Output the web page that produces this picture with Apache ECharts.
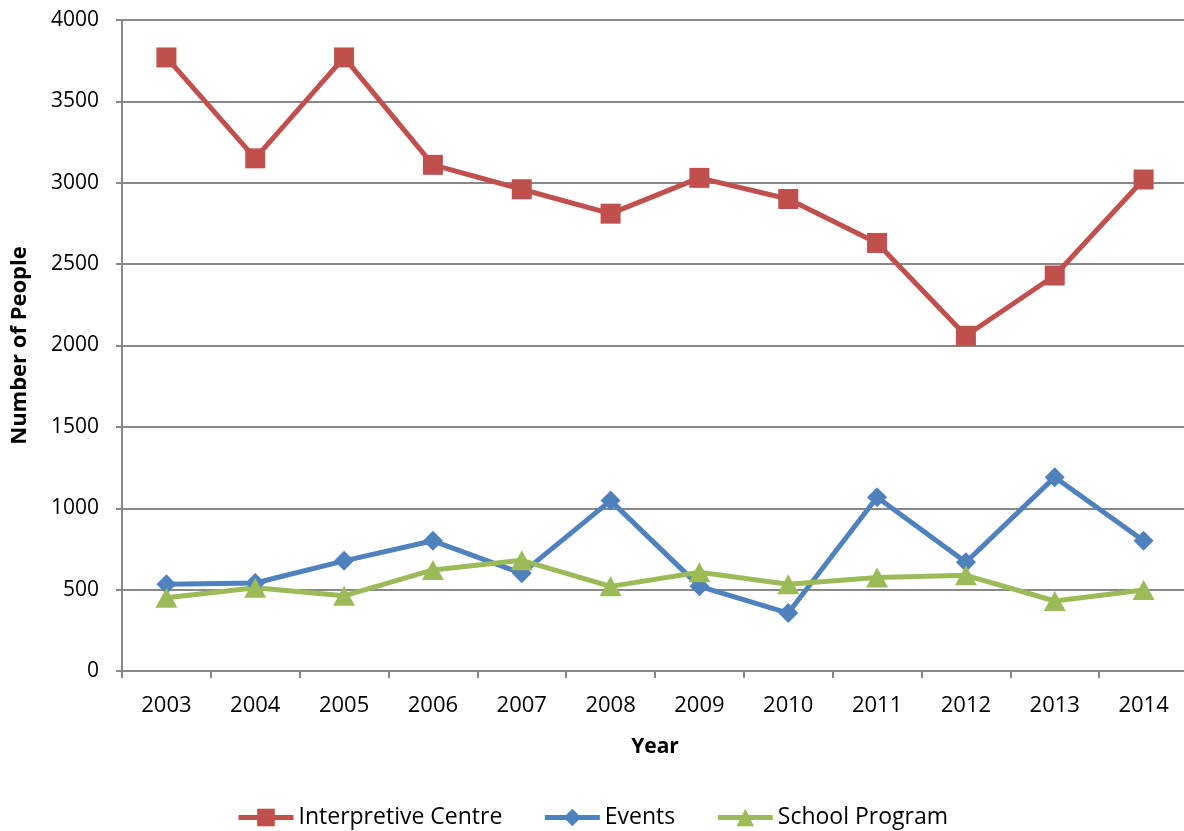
<!DOCTYPE html>
<html>
<head>
<meta charset="utf-8">
<script src="https://cdn.jsdelivr.net/npm/echarts@6/dist/echarts.min.js"></script>
<style>
  html, body { margin: 0; padding: 0; background: #fff; }
  #chart { width: 1184px; height: 831px; }
</style>
</head>
<body>
<div id="chart"></div>
<script>
  const years = ['2003', '2004', '2005', '2006', '2007', '2008', '2009', '2010', '2011', '2012', '2013', '2014']
  const interpretiveCentre = [3770, 3150, 3770, 3110, 2960, 2810, 3030, 2900, 2630, 2060, 2430, 3020]
  const events = [533, 541, 677, 800, 600, 1047, 520, 356, 1068, 668, 1191, 800]
  const schoolProgram = [450, 512, 462, 621, 680, 520, 607, 533, 574, 588, 430, 498]

  const axisGray = '#888888'
  const font = 'Open Sans'

  let chart = echarts.init(document.getElementById('chart'))

  function seriesItem(name, data, color, symbol, size) {
    return {
      name: name,
      type: 'line',
      data: data,
      symbol: symbol,
      symbolSize: size,
      lineStyle: { width: 5, color: color },
      itemStyle: { color: color },
      animation: false
    }
  }

  chart.setOption({
    grid: {
      left: 122,
      right: -4,
      top: 20,
      bottom: 160,
      outerBoundsMode: 'none',
      containLabel: false
    },
    legend: {
      bottom: -3,
      left: 'center',
      itemWidth: 55,
      itemHeight: 22,
      itemGap: 40,
      lineStyle: { width: 5 },
      textStyle: { fontFamily: font, fontSize: 23, color: '#000', padding: [0, 0, 0, 0] },
      data: ['Interpretive Centre', 'Events', 'School Program']
    },
    xAxis: {
      type: 'category',
      data: years,
      boundaryGap: true,
      name: 'Year',
      nameLocation: 'middle',
      nameGap: 66,
      nameTextStyle: { fontFamily: font, fontSize: 21, fontWeight: 'bold', color: '#000' },
      axisLine: { lineStyle: { color: axisGray, width: 2 } },
      axisTick: { show: true, length: 7, lineStyle: { color: axisGray, width: 2 } },
      axisLabel: { fontFamily: font, fontSize: 22, color: '#000', margin: 24 }
    },
    yAxis: {
      type: 'value',
      min: 0,
      max: 4000,
      interval: 500,
      name: 'Number of People',
      nameLocation: 'middle',
      nameGap: 91,
      nameRotate: 90,
      nameTextStyle: { fontFamily: font, fontSize: 22, fontWeight: 'bold', color: '#000' },
      axisLine: { show: true, lineStyle: { color: axisGray, width: 2 } },
      axisTick: { show: true, length: 6, lineStyle: { color: axisGray, width: 2 } },
      axisLabel: { fontFamily: font, fontSize: 21, color: '#000', margin: 23, formatter: v => String(v) },
      splitLine: { show: true, lineStyle: { color: axisGray, width: 2 } }
    },
    series: [
      seriesItem('Interpretive Centre', interpretiveCentre, '#C0504D', 'rect', 20),
      seriesItem('Events', events, '#4F81BD', 'diamond', [20, 20]),
      seriesItem('School Program', schoolProgram, '#9BBB59', 'triangle', [22, 20])
    ]
  })
</script>
</body>
</html>
